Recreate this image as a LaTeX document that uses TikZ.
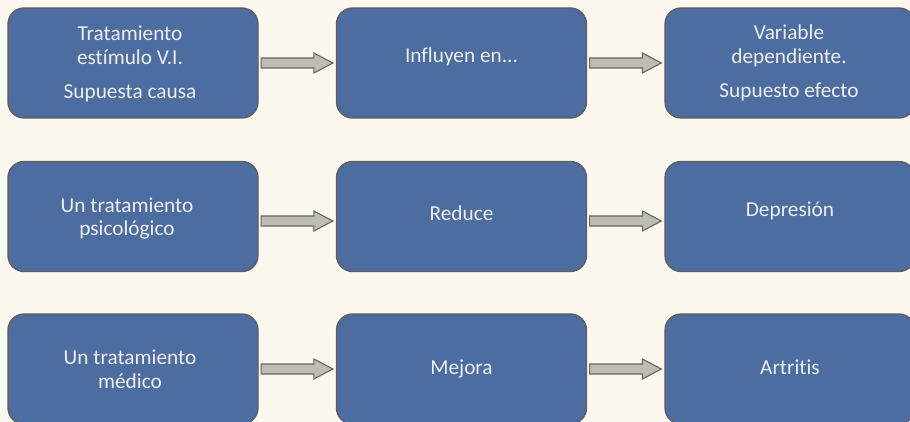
\documentclass[tikz,border=0pt]{standalone}
\usepackage{fontspec}
\setmainfont{Carlito}[Ligatures={NoCommon}]
\usetikzlibrary{calc}
\definecolor{bg}{HTML}{FDF8EF}
\definecolor{boxfill}{HTML}{4D6C9F}
\definecolor{boxline}{HTML}{5E5E5E}
\definecolor{txtc}{HTML}{EEEEEE}
\definecolor{arrfill}{HTML}{BDBDB5}
\definecolor{arrline}{HTML}{66665F}
\newcommand{\fatarrow}[3]{%
  \draw[fat] let \p1=([xshift=2.5pt,yshift=#3]#1.east), \p2=([xshift=-3pt]#2.west) in
  (\x1,\y1+5pt) -- (\x2-19pt,\y1+5pt) -- (\x2-19pt,\y1+10pt) -- (\x2,\y1)
  -- (\x2-19pt,\y1-10pt) -- (\x2-19pt,\y1-5pt) -- (\x1,\y1-5pt) -- cycle;}
\begin{document}
\begin{tikzpicture}[x=1pt,y=-1pt,
  box/.style={draw=boxline, fill=boxfill, line width=1.3pt, rounded corners=16pt,
    minimum width=250pt, minimum height=110pt, inner sep=0pt},
  txt/.style={text=txtc, font=\fontsize{21.3}{23.5}\selectfont, align=center, inner sep=0pt},
  fat/.style={draw=arrline, fill=arrfill, line width=1.1pt, line join=miter}]
\useasboundingbox (0,0) rectangle (910,422);
\clip (0,0) rectangle (910,422);
\fill[bg] (0,0) rectangle (910,422);

% boxes
\node[box] (b11) at (133,63) {};
\node[box] (b12) at (461.5,63) {};
\node[box] (b13) at (790,63) {};
\node[box] (b21) at (133,216.5) {};
\node[box] (b22) at (461.5,216.5) {};
\node[box] (b23) at (790,216.5) {};
\node[box] (b31) at (133,369) {};
\node[box] (b32) at (461.5,369) {};
\node[box] (b33) at (790,369) {};

% texts
\node[txt] (t11) at ([xshift=-3pt,yshift=-1pt]b11.center) {Tratamiento\\estímulo V.I.\\[10.5pt]Supuesta causa};
\node[txt,anchor=base] (t12) at (b12.center) {Influyen en{.}{.}{.}};
\node[txt] (t13) at ([xshift=-1pt]b13.center) {Variable\\dependiente.\\[10.5pt]Supuesto efecto};
\node[txt] (t21) at ([xshift=-6pt,yshift=-2pt]b21.center) {Un tratamiento\\psicológico};
\node[txt,anchor=base] (t22) at ([yshift=-4.5pt]b22.center) {Reduce};
\node[txt,anchor=base] (t23) at ([yshift=0.5pt]b23.center) {Depresión};
\node[txt] (t31) at ([xshift=-3pt]b31.center) {Un tratamiento\\médico};
\node[txt,anchor=base] (t32) at ([yshift=-5pt]b32.center) {Mejora};
\node[txt,anchor=base] (t33) at ([yshift=-5pt]b33.center) {Artritis};

% arrows
\fatarrow{b11}{b12}{0pt}
\fatarrow{b12}{b13}{0pt}
\fatarrow{b21}{b22}{-4.5pt}
\fatarrow{b22}{b23}{-4.5pt}
\fatarrow{b31}{b32}{0pt}
\fatarrow{b32}{b33}{0pt}
\end{tikzpicture}
\end{document}
